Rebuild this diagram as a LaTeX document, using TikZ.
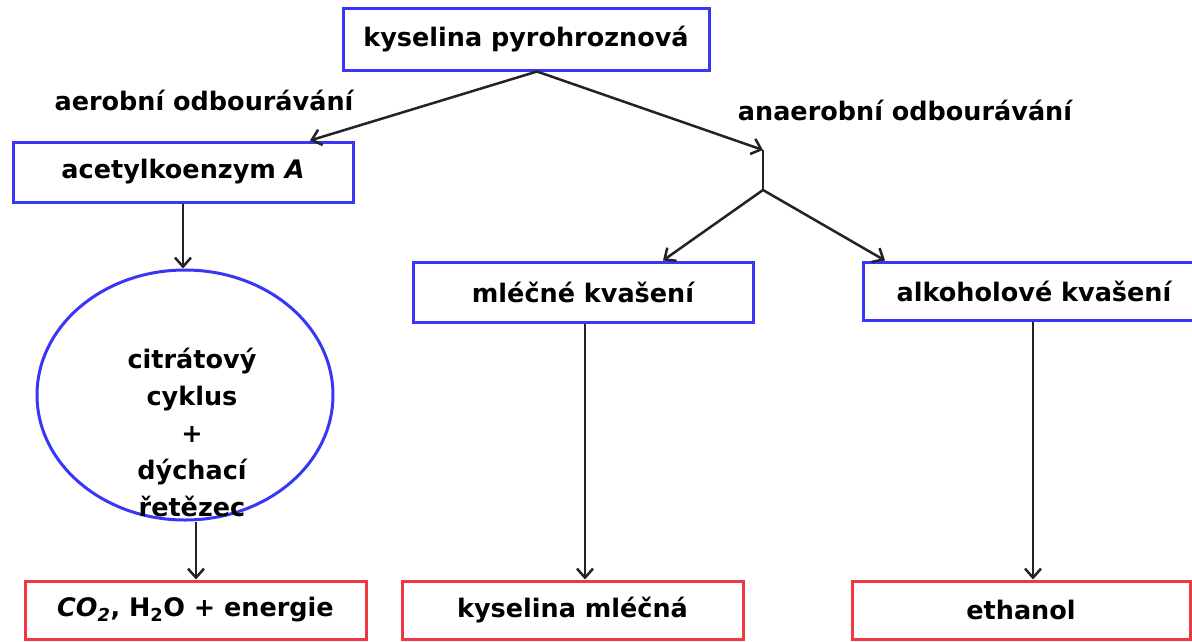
\documentclass[tikz,border=0pt]{standalone}
\usepackage{fontspec}
\setmainfont{DejaVu Sans}
\usetikzlibrary{arrows.meta,shapes.geometric}

\definecolor{bbox}{RGB}{55,55,245}
\definecolor{rbox}{RGB}{240,55,65}
\definecolor{arr}{RGB}{35,35,35}

\begin{document}
\begin{tikzpicture}[x=1pt,y=-1pt,
 txt/.style={font=\fontsize{25.5}{37}\selectfont\bfseries, text=black},
 bluebox/.style={txt, draw=bbox, line width=3pt, inner sep=0pt, minimum height=60pt},
 redbox/.style={txt, draw=rbox, line width=3pt, inner sep=0pt, minimum height=58pt},
 conn/.style={draw=arr, line width=2.5pt, -{Straight Barb[length=9pt,width=16pt,line width=2.5pt]}},
 plainline/.style={draw=arr, line width=2.5pt}]

\useasboundingbox (0,0) rectangle (1192,641);
\fill[white] (0,0) rectangle (1192,641);

\node[bluebox, minimum width=366pt, minimum height=62pt] (top) at (526,39) {kyselina pyrohroznová};
\node[bluebox, minimum width=340pt] (acetyl) at (183,172) {acetylkoenzym \textit{A}};
\node[bluebox, minimum width=340pt] (mlecne) at (583,292) {mléčné kvašení};
\node[bluebox, minimum width=342pt, minimum height=58pt] (alkohol) at (1034,291) {alkoholové kvašení};
\node[draw=bbox, line width=3pt, ellipse, minimum width=296pt, minimum height=250pt] (cyklus) at (185,395) {};
\node[txt, align=center] (cyklustext) at (192,432) {citrátový\\cyklus\\+\\dýchací\\řetězec};

\node[redbox, minimum width=341pt] (co2) at (195.5,610) {{\itshape CO\textsubscript{2}}, H\textsubscript{2}O + energie};
\node[redbox, minimum width=341pt] (kys) at (572.5,610) {kyselina mléčná};
\node[redbox, minimum width=338pt] (ethanol) at (1021,610) {ethanol};

\node[txt] (aerob) at (204,100) {aerobní odbourávání};
\node[txt] (anaerob) at (905,110) {anaerobní odbourávání};

\coordinate (branch) at (763,150);
\coordinate (split) at (763,190);

\draw[conn] (537,0 |- top.south) -- (310,0 |- acetyl.north);
\draw[conn] (537,0 |- top.south) -- (branch);
\draw[plainline] (branch) -- (split);
\draw[conn] (split) -- (663,0 |- mlecne.north);
\draw[conn] (split) -- (885,0 |- alkohol.north);
\draw[conn] (183,0 |- acetyl.south) -- (183,0 |- cyklus.north);
\draw[conn] (196,0 |- cyklus.south) -- (196,0 |- co2.north);
\draw[conn] (585,0 |- mlecne.south) -- (585,0 |- kys.north);
\draw[conn] (1033,0 |- alkohol.south) -- (1033,0 |- ethanol.north);
\end{tikzpicture}
\end{document}
